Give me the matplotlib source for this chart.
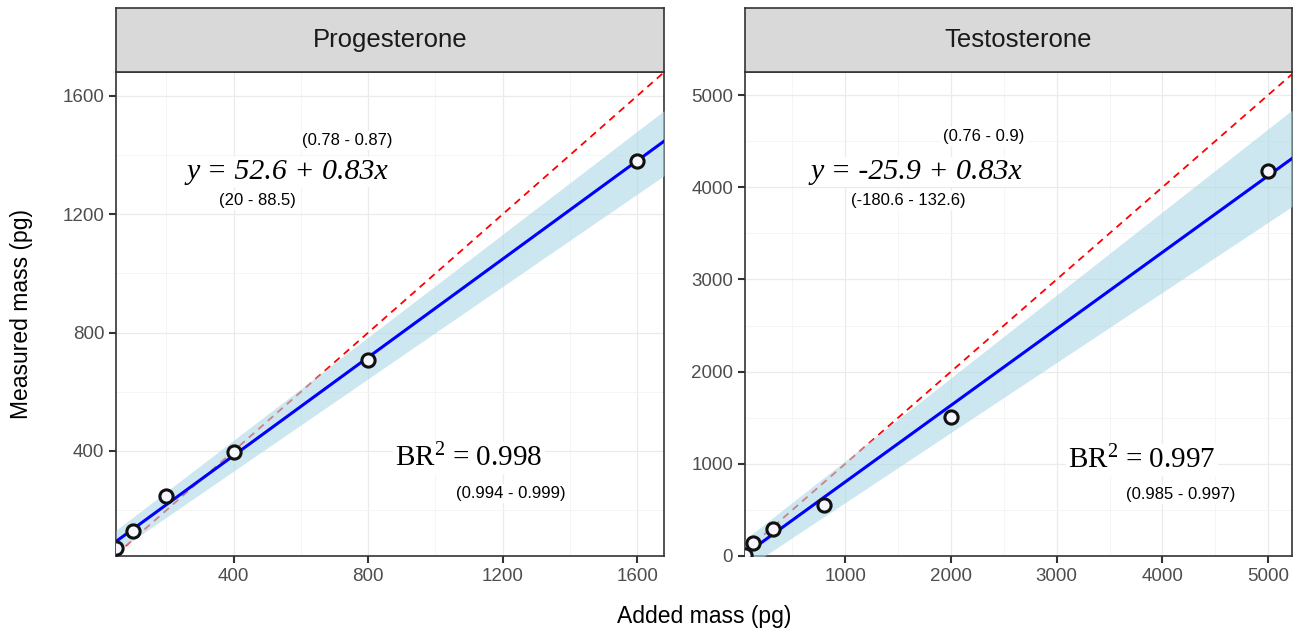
import matplotlib.pyplot as plt
import numpy as np

plt.rcParams['mathtext.fontset'] = 'custom'
plt.rcParams['mathtext.rm'] = 'Liberation Serif'
plt.rcParams['mathtext.default'] = 'regular'

# ---- data ----
panels = ['Progesterone', 'Testosterone']

prog_added = [50, 100, 200, 400, 800, 1600]
prog_measured = [73, 130, 248, 397, 709, 1380]
prog_intercept, prog_slope = 52.6, 0.83
prog_intercept_ci = [20, 88.5]
prog_slope_ci = [0.78, 0.87]
prog_br2 = 0.998
prog_br2_ci = [0.994, 0.999]

test_added = [51.2, 128, 320, 800, 2000, 5000]
test_measured = [15, 141, 293, 553, 1508, 4176]
test_intercept, test_slope = -25.9, 0.83
test_intercept_ci = [-180.6, 132.6]
test_slope_ci = [0.76, 0.9]
test_br2 = 0.997
test_br2_ci = [0.985, 0.997]

prog_xticks = [400, 800, 1200, 1600]
prog_yticks = [400, 800, 1200, 1600]
test_xticks = [1000, 2000, 3000, 4000, 5000]
test_yticks = [0, 1000, 2000, 3000, 4000, 5000]


def fmt(v):
    return ('%g' % v)


def draw_panel(ax, sax, title, added, measured, a, b, a_ci, b_ci, br2, br2_ci,
               xlim, ylim, xticks, yticks, xminor, yminor, txt):
    # grid
    ax.set_xticks(xticks)
    ax.set_yticks(yticks)
    ax.set_xticks(xminor, minor=True)
    ax.set_yticks(yminor, minor=True)
    ax.grid(True, which='major', color='#EBEBEB', lw=0.9, zorder=0)
    ax.grid(True, which='minor', color='#F4F4F4', lw=0.6, zorder=0)
    ax.set_axisbelow(True)
    ax.tick_params(which='minor', length=0)

    xs = np.array([xlim[0], xlim[1]])
    # identity line
    ax.plot(xs, xs, color='red', ls=(0, (4, 3)), lw=1.3, zorder=2)
    # confidence band
    lo = a_ci[0] + b_ci[0] * xs
    hi = a_ci[1] + b_ci[1] * xs
    ax.fill_between(xs, lo, hi, color='#ADD8E6', alpha=0.6, lw=0, zorder=3)
    # fitted line
    ax.plot(xs, a + b * xs, color='#0000FF', lw=2.2, zorder=4)
    # observations
    ax.plot(added, measured, ls='none', marker='o', ms=9.5, mew=2.2,
            mfc='#F6F6FF', mec='#111111', zorder=5)

    ax.set_xlim(*xlim)
    ax.set_ylim(*ylim)

    box = dict(fc='white', ec='none', pad=1.5)
    sans = 'Liberation Sans'
    serif = 'Liberation Serif'
    (sx, sy), (ex, ey), (ix, iy), (rx, ry), (cx, cy) = txt
    ax.text(sx, sy, '(%s - %s)' % (fmt(b_ci[0]), fmt(b_ci[1])), transform=ax.transAxes,
            ha='center', va='center', fontsize=12, family=sans, bbox=box, zorder=6)
    ax.text(ex, ey, 'y = %s + %sx' % (fmt(a), fmt(b)), transform=ax.transAxes,
            ha='center', va='center', fontsize=21.5, family=serif, style='italic',
            bbox=box, zorder=6)
    ax.text(ix, iy, '(%s - %s)' % (fmt(a_ci[0]), fmt(a_ci[1])), transform=ax.transAxes,
            ha='center', va='center', fontsize=12, family=sans, bbox=box, zorder=6)
    ax.text(rx, ry, r'BR$^{2}$ = %s' % fmt(br2), transform=ax.transAxes,
            ha='center', va='center', fontsize=21, family=serif, bbox=box, zorder=6)
    ax.text(cx, cy, '(%s - %s)' % (fmt(br2_ci[0]), fmt(br2_ci[1])), transform=ax.transAxes,
            ha='center', va='center', fontsize=12, family=sans, bbox=box, zorder=6)

    for s in ax.spines.values():
        s.set_color('#333333')
        s.set_linewidth(1.2)
    ax.tick_params(which='major', direction='out', length=5, width=1.5,
                   color='#333333', labelcolor='#4D4D4D', labelsize=13.5)
    for lab in ax.get_xticklabels() + ax.get_yticklabels():
        lab.set_family('Liberation Sans')

    # facet strip
    sax.set_facecolor('#D9D9D9')
    sax.set_xticks([])
    sax.set_yticks([])
    for s in sax.spines.values():
        s.set_color('#333333')
        s.set_linewidth(1.2)
    sax.text(0.5, 0.5, title, ha='center', va='center', fontsize=18.5,
             color='#1A1A1A', family='Liberation Sans', transform=sax.transAxes)


fig = plt.figure(figsize=(13.04, 6.32), dpi=100, facecolor='white')

W, H = 1304, 632
def frac(x0, x1, y0, y1):
    return [x0 / W, (H - y1) / H, (x1 - x0) / W, (y1 - y0) / H]

ax1 = fig.add_axes(frac(116, 664, 72, 556))
sax1 = fig.add_axes(frac(116, 664, 8, 72))
ax2 = fig.add_axes(frac(745, 1292, 72, 556))
sax2 = fig.add_axes(frac(745, 1292, 8, 72))

draw_panel(ax1, sax1, panels[0], prog_added, prog_measured, prog_intercept, prog_slope,
           prog_intercept_ci, prog_slope_ci, prog_br2, prog_br2_ci,
           (50, 1680), (45, 1681), prog_xticks, prog_yticks,
           [200, 600, 1000, 1400], [200, 600, 1000, 1400],
           [(0.4215, 0.8595), (0.312, 0.793), (0.259, 0.7355), (0.644, 0.2025), (0.721, 0.130)])

draw_panel(ax2, sax2, panels[1], test_added, test_measured, test_intercept, test_slope,
           test_intercept_ci, test_slope_ci, test_br2, test_br2_ci,
           (51.2, 5226), (0, 5250), test_xticks, test_yticks,
           [500, 1500, 2500, 3500, 4500], [500, 1500, 2500, 3500, 4500],
           [(0.437, 0.866), (0.3126, 0.793), (0.298, 0.7355), (0.726, 0.198), (0.797, 0.128)])

fig.text(22 / W, 1 - 314 / H, 'Measured mass (pg)', rotation=90, ha='center', va='center',
         fontsize=16.5, family='Liberation Sans')
fig.text(704 / W, 1 - 616 / H, 'Added mass (pg)', ha='center', va='center',
         fontsize=16.5, family='Liberation Sans')

fig.savefig('out.png', dpi=100)
